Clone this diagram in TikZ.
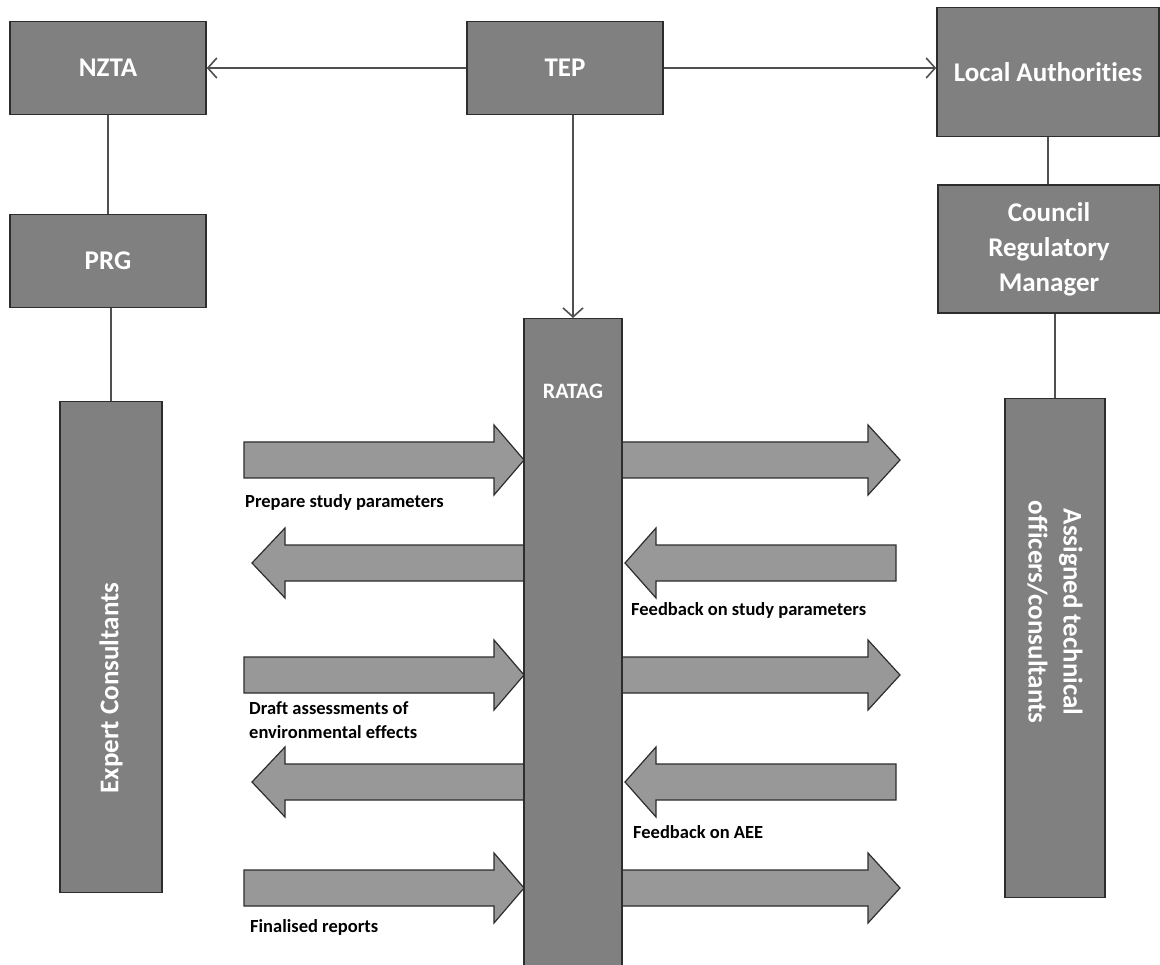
\documentclass[tikz,border=0pt]{standalone}
\usepackage{fontspec}
\setmainfont{Carlito}[RawFeature={-liga;-calt;-dlig}]
\usetikzlibrary{arrows.meta, positioning}
\definecolor{boxgray}{RGB}{128,128,128}
\definecolor{arrowgray}{RGB}{152,152,152}
\definecolor{edgegray}{RGB}{45,45,45}
\definecolor{linegray}{RGB}{80,80,80}
\tikzset{
    orgchart/.style={x=1pt, y=-1pt, >={Straight Barb[length=9pt, width=20pt, line width=1.6pt]}},
    box/.style={draw=edgegray, line width=1.5pt, fill=boxgray, text=white, align=center, inner sep=0pt,
        font=\bfseries\fontsize{27}{35}\selectfont},
    title/.style={text=white, align=center, inner sep=0pt, font=\bfseries\fontsize{27}{35}\selectfont},
    link/.style={draw=linegray, line width=2pt},
    % the broad block arrows to and from RATAG
    fat/.style={draw=edgegray, line width=1.2pt, fill=arrowgray, line join=miter},
    note/.style={anchor=west, align=left, inner sep=0pt, font=\bfseries\fontsize{18.5}{24}\selectfont},
}
\begin{document}
\begin{tikzpicture}[orgchart]
        \useasboundingbox[fill=white] (0,0) rectangle (1160,965);

        \node[box, minimum width=196, minimum height=93]  (nzta)    at (108,68)   {NZTA};
        \node[box, minimum width=196, minimum height=93]  (tep)     at (565,68)   {TEP};
        \node[box, minimum width=222, minimum height=129] (local)   at (1048,72)  {Local Authorities};
        \node[box, minimum width=196, minimum height=93]  (prg)     at (108,261)  {PRG};
        \node[box, minimum width=222, minimum height=128] (council) at (1049,249) {Council\\Regulatory\\Manager};
        \node[box, minimum width=102, minimum height=491] (expert)  at (111,647)  {};
        \node[box, minimum width=100, minimum height=499] (assigned) at (1055,648) {};
        \node[title, rotate=90]  (expertlbl)   at (111,688)  {Expert Consultants};
        \node[title, rotate=-90] (assignedlbl) at (1055,612) {Assigned technical\\officers/consultants};

        \foreach \yy in {460, 675, 888} {
            \draw[fat] (244,\yy-18) -- (494,\yy-18) -- (494,\yy-35) -- (524,\yy)
                -- (494,\yy+35) -- (494,\yy+18) -- (244,\yy+18) -- cycle;
            \draw[fat] (618,\yy-18) -- (868,\yy-18) -- (868,\yy-35) -- (900,\yy)
                -- (868,\yy+35) -- (868,\yy+18) -- (618,\yy+18) -- cycle;
        }
        \foreach \yy in {563, 782} {
            \draw[fat] (528,\yy-18) -- (285,\yy-18) -- (285,\yy-35) -- (252,\yy)
                -- (285,\yy+35) -- (285,\yy+18) -- (528,\yy+18) -- cycle;
            \draw[fat] (896,\yy-18) -- (656,\yy-18) -- (656,\yy-35) -- (625,\yy)
                -- (656,\yy+35) -- (656,\yy+18) -- (896,\yy+18) -- cycle;
        }

        \node[box, minimum width=98, minimum height=650, anchor=north] (ratag) at (573,318) {};
        \node[title, font=\bfseries\fontsize{22}{26}\selectfont, below=66pt of ratag.north] (ratagtxt) {RATAG};

        \node[note] (prepare)   at (245,502) {Prepare study parameters};
        \node[note] (feedstudy) at (631,610) {Feedback on study parameters};
        \node[note] (draft)     at (249,720) {Draft assessments of\\environmental effects};
        \node[note] (feedaee)   at (633,832) {Feedback on AEE};
        \node[note] (final)     at (250,927) {Finalised reports};

        \draw[link, ->] (tep.west) -- (tep.west -| nzta.east);
        \draw[link, ->] (tep.east) -- (tep.east -| local.west);
        \draw[link, ->] (ratag.north |- tep.south) -- (ratag.north);
        \draw[link] (nzta.south) -- (prg.north);
        \draw[link] (expert.north |- prg.south) -- (expert.north);
        \draw[link] (local.south) -- (local.south |- council.north);
        \draw[link] (assigned.north |- council.south) -- (assigned.north);
    \end{tikzpicture}
\end{document}
